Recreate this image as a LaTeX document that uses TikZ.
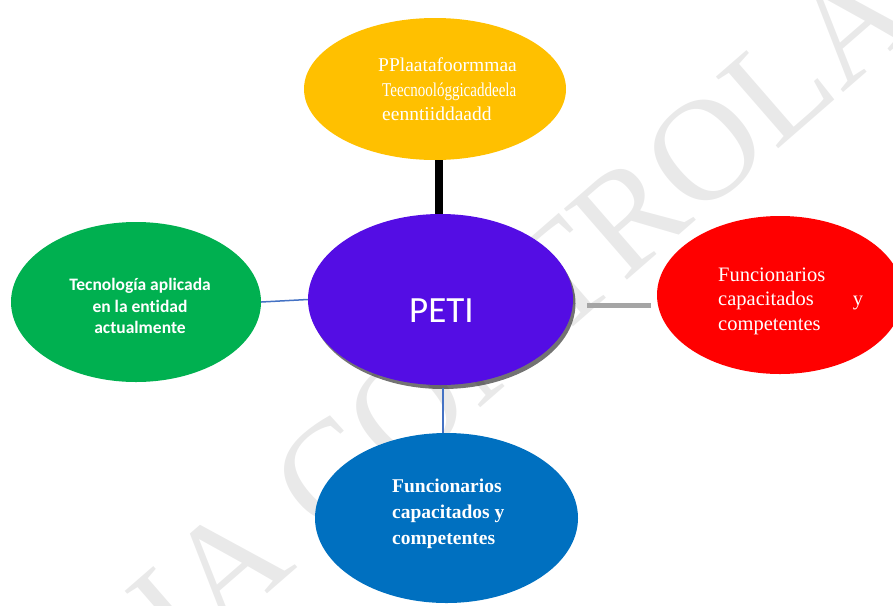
\documentclass[tikz,border=0pt]{standalone}
\usepackage{fontspec}
\setmainfont{Liberation Serif}
\newfontfamily\calibri[Ligatures=NoCommon]{Carlito}
\usetikzlibrary{shapes.geometric,shadows}

\definecolor{colAmarillo}{RGB}{255,192,0}
\definecolor{colMorado}{RGB}{84,13,228}
\definecolor{colVerde}{RGB}{0,176,80}
\definecolor{colRojo}{RGB}{255,0,0}
\definecolor{colAzul}{RGB}{0,112,192}
\definecolor{colLinea}{RGB}{68,114,196}
\definecolor{colGris}{RGB}{165,165,165}
\definecolor{colMarca}{RGB}{233,233,233}

\begin{document}
\begin{tikzpicture}[x=1pt,y=-1pt,
    burbuja/.style={ellipse,inner sep=0pt,draw=none},
    texto/.style={text=white,inner sep=0pt}]
                \useasboundingbox (0,0) rectangle (893,605);
                \clip (0,0) rectangle (893,605);
                % Draw the watermark behind everything
                \node[text=colMarca,rotate=41,inner sep=0pt,font={\fontsize{145}{145}\selectfont}] (marca) at (494,334)
                    {COPIA CONTROLADA};
                % Draw the five bubbles, the centre one with its shadow
                \node[burbuja,fill=colAmarillo,minimum width=262pt,minimum height=142pt] (amarillo) at (435,89) {};
                \node[burbuja,fill=colVerde,minimum width=250pt,minimum height=160pt] (verde) at (136,302) {};
                \node[burbuja,fill=colRojo,minimum width=246pt,minimum height=158pt] (rojo) at (780,295) {};
                \node[burbuja,fill=colAzul,minimum width=263pt,minimum height=170pt] (azul) at (446.5,518) {};
                \node[burbuja,fill=colMorado,minimum width=265pt,minimum height=171pt,
                    drop shadow={shadow xshift=2.5pt,shadow yshift=-4pt,fill=black,opacity=.55}] (peti) at (440.5,299.5) {};
                % Draw the connectors
                \draw[line width=8pt] (amarillo.south -| 439,0) -- (peti.north -| 439,0);
                \draw[colLinea,line width=1.5pt] (verde.east) -- (peti.west);
                \draw[colGris,line width=5pt] ([xshift=14pt,yshift=-5.5pt]peti.east) -- ([xshift=-6pt,yshift=-10pt]rojo.west);
                \draw[colLinea,line width=1.5pt] ([yshift=-3pt]peti.south -| 443,0) -- (azul.north -| 443,0);
                % Texts
                \node[texto] (peti-t) at (441.5,311) {\calibri\fontsize{37}{40}\selectfont PETI};
                \node[texto,anchor=west,align=left,font={\fontsize{19.5}{24.5}\selectfont}] (amarillo-t) at (378,89.5)
                    {PPlaatafoormmaa\\
                     \hspace{4pt}\scalebox{.77}[1]{Teecnoológgicaddeela}\\
                     \hspace{4pt}eenntiiddaadd};
                \node[texto,align=center,font={\calibri\bfseries\fontsize{17.5}{21.7}\selectfont}] (verde-t) at (140,306)
                    {Tecnología aplicada\\en la entidad\\actualmente};
                \node[texto,anchor=west,align=left,text width=145pt,font={\fontsize{20.5}{24.5}\selectfont}] (rojo-t) at (718,301)
                    {Funcionarios\\capacitados\hfill y\\competentes};
                \node[texto,anchor=west,align=left,font={\bfseries\fontsize{19.5}{26}\selectfont}] (azul-t) at (392,514)
                    {Funcionarios\\capacitados y\\competentes};
            \end{tikzpicture}
\end{document}
